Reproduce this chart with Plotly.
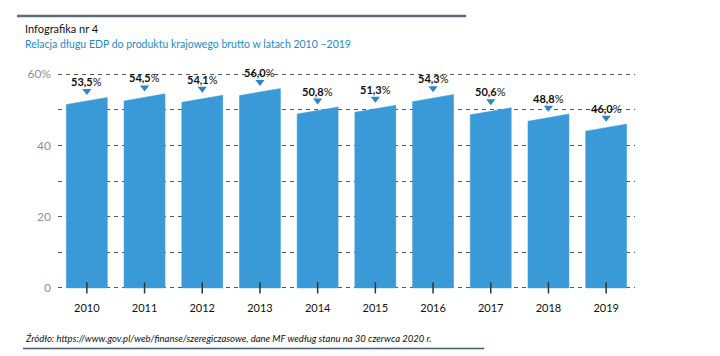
import plotly.graph_objects as go

years = ["2010", "2011", "2012", "2013", "2014", "2015", "2016", "2017", "2018", "2019"]
debt_ratio = [53.5, 54.5, 54.1, 56.0, 50.8, 51.3, 54.3, 50.6, 48.8, 46.0]
y_tick_vals = [0, 10, 20, 30, 40, 50, 60]
y_tick_text = ["0", "", "20", "", "40", "", "60%"]

title_main = "Infografika nr 4"
title_sub = "Relacja długu EDP do produktu krajowego brutto w latach 2010 –2019"
source_text = "Źródło: https://www.gov.pl/web/finanse/szeregiczasowe, dane MF według stanu na 30 czerwca 2020 r."

BAR = "#3a9ad7"
TRI = "#2b86c2"
FONT = "Lato"
half_w = 0.355
slant = 2.0

# page has an 8px body margin; layout coordinates below are reference pixels minus 8
W, H = 712, 348
OFF = 8
L, R, T, B = 58 - OFF, 720 - 634.7, 59.7 - OFF, 356 - 295.4

px, py = [], []
for i, v in enumerate(debt_ratio):
    px += [i - half_w, i - half_w, i + half_w, i + half_w, i - half_w, None]
    py += [0, v - slant, v, 0, 0, None]

fig = go.Figure()
fig.add_trace(go.Scatter(x=px, y=py, mode="lines", fill="toself", fillcolor=BAR,
                         line=dict(color=BAR, width=0.5), hoverinfo="skip", showlegend=False))
fig.add_trace(go.Scatter(x=list(range(len(years))), y=[v + 1.8 for v in debt_ratio], mode="markers",
                         marker=dict(symbol="triangle-down", size=8, color=TRI),
                         cliponaxis=False, showlegend=False, hoverinfo="skip"))
fig.add_trace(go.Scatter(x=list(range(len(years))), y=[0] * len(years), mode="markers",
                         marker=dict(symbol="line-ns", size=8, line=dict(color="#333", width=1.5)),
                         cliponaxis=False, showlegend=False, hoverinfo="skip"))

for i, v in enumerate(debt_ratio):
    fig.add_annotation(x=i, y=v, yshift=16, showarrow=False,
                       text="<b>" + f"{v:.1f}".replace(".", ",") + "</b>%",
                       font=dict(family=FONT, size=11, color="#111"))

fig.update_xaxes(range=[-0.5, 9.5], tickvals=list(range(len(years))), ticktext=years,
                 showgrid=False, zeroline=False, showline=False, ticks="",
                 tickfont=dict(family=FONT, size=11, color="#111"), ticklabelstandoff=5)
fig.update_yaxes(range=[-2, 64], tickvals=y_tick_vals, ticktext=y_tick_text,
                 showgrid=True, gridcolor="#555", gridwidth=1, griddash="4px,4px",
                 zeroline=False, showline=False, ticks="",
                 tickfont=dict(family=FONT, size=12, color="#8f8f8f"), ticklabelstandoff=6)

fig.update_layout(
    width=W, height=H,
    margin=dict(l=L, r=R, t=T, b=B, autoexpand=False),
    paper_bgcolor="white", plot_bgcolor="white",
    font=dict(family=FONT),
    showlegend=False,
)

def pix_x(x):
    return (x - OFF - L) / (W - L - R)

def pix_y(y):
    return (H - B - (y - OFF)) / (H - T - B)

fig.add_annotation(xref="paper", yref="paper", x=pix_x(23), y=pix_y(28), xanchor="left", yanchor="middle",
                   showarrow=False, text=title_main, font=dict(family=FONT, size=11, color="#111"))
fig.add_annotation(xref="paper", yref="paper", x=pix_x(23), y=pix_y(44), xanchor="left", yanchor="middle",
                   showarrow=False, text=title_sub, font=dict(family=FONT, size=10.5, color="#1e8bc5"))
fig.add_annotation(xref="paper", yref="paper", x=pix_x(23), y=pix_y(339), xanchor="left", yanchor="middle",
                   showarrow=False, text="<i>" + source_text + "</i>", font=dict(family=FONT, size=9.5, color="#111"))
fig.add_shape(type="line", xref="paper", yref="paper", x0=pix_x(17), x1=pix_x(466), y0=pix_y(15.5), y1=pix_y(15.5),
              line=dict(color="#5f6b7b", width=2.5))
fig.add_shape(type="line", xref="paper", yref="paper", x0=pix_x(23), x1=pix_x(484), y0=pix_y(349), y1=pix_y(349),
              line=dict(color="#4b5d73", width=1.5))

fig.write_html("out.html")
